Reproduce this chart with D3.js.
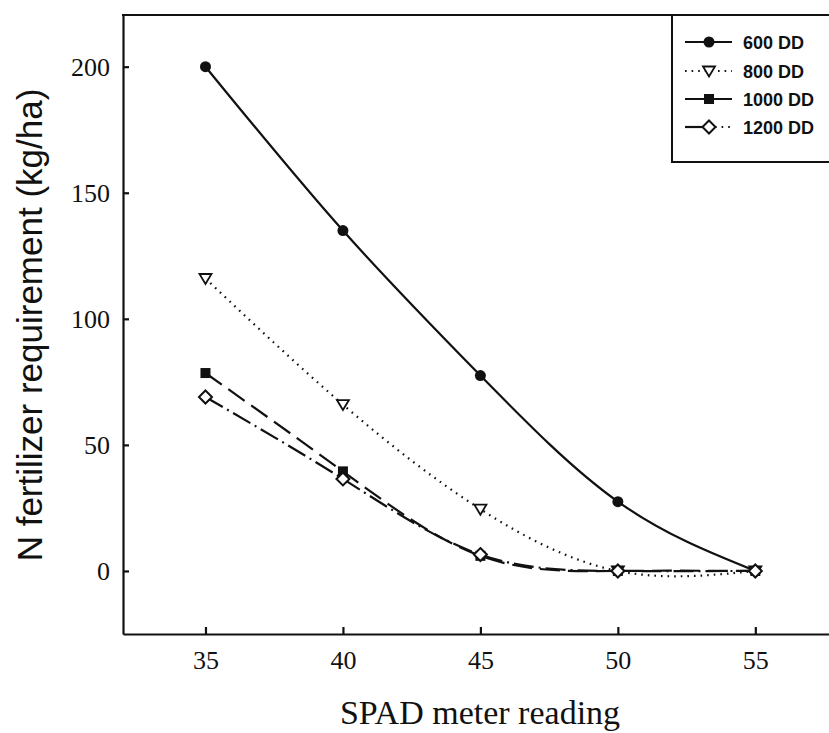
<!DOCTYPE html>
<html>
<head>
<meta charset="utf-8">
<script src="https://cdn.jsdelivr.net/npm/d3@7"></script>
<style>
  body { margin: 0; background: #fff; }
  .tick text { font-family: "Liberation Serif", "Times New Roman", serif; font-size: 26px; fill: #111; }
  .domain, .tick line { stroke: #111; stroke-width: 2.2; }
</style>
</head>
<body>
<div id="chart"></div>
<script>
// SPAD readings on the x axis
const spad = [35, 40, 45, 50, 55];

// N fertilizer requirement (kg/ha) per growth stage
const dd600 = [200, 135, 77.5, 27.5, 0];
const dd800 = [116, 66, 24.5, 0, 0];
const dd1000 = [78.5, 39.5, 6, 0, 0];
const dd1200 = [69, 36.5, 6.5, 0, 0];

const seriesNames = ["600 DD", "800 DD", "1000 DD", "1200 DD"];
const xTicks = [35, 40, 45, 50, 55];
const yTicks = [0, 50, 100, 150, 200];

const width = 829, height = 733;

const svg = d3.select("#chart").append("svg")
    .attr("width", width)
    .attr("height", height);

const x = d3.scaleLinear().domain([32, 57.68]).range([123, 829]);
const y = d3.scaleLinear().domain([-25, 220.5]).range([634, 15]);

// frame top line
svg.append("line")
    .attr("x1", 122).attr("x2", width)
    .attr("y1", y(220.5)).attr("y2", y(220.5))
    .attr("stroke", "#111").attr("stroke-width", 2.2);

// axes, ticks pointing inward
svg.append("g")
    .attr("transform", `translate(0,${y(-25)})`)
    .call(d3.axisBottom(x).tickValues(xTicks).tickSize(-7).tickSizeOuter(0).tickPadding(17));

svg.append("g")
    .attr("transform", `translate(${x(32)},0)`)
    .call(d3.axisLeft(y).tickValues(yTicks).tickSize(-6).tickSizeOuter(0).tickPadding(13));

// axis titles
svg.append("text")
    .attr("x", 480).attr("y", 724)
    .attr("text-anchor", "middle")
    .style("font-family", "'Liberation Serif', 'Times New Roman', serif")
    .style("font-size", "34px")
    .attr("fill", "#111")
    .text("SPAD meter reading");

svg.append("text")
    .attr("transform", "translate(42,325) rotate(-90)")
    .attr("text-anchor", "middle")
    .style("font-family", "'Liberation Sans', Arial, sans-serif")
    .style("font-size", "35px")
    .attr("fill", "#111")
    .text("N fertilizer requirement (kg/ha)");

// series styling
const styles = [
    { values: dd600, dash: null, marker: "circle" },
    { values: dd800, dash: "1.6,5", marker: "triangle" },
    { values: dd1000, dash: "20,8", marker: "square" },
    { values: dd1200, dash: "20,5,2,5", marker: "diamond" }
];

const line = d3.line()
    .x(d => x(d[0]))
    .y(d => y(d[1]))
    .curve(d3.curveNatural);

function drawMarker(g, type, cx, cy) {
    if (type === "circle") {
        g.append("circle").attr("cx", cx).attr("cy", cy).attr("r", 5.5).attr("fill", "#111");
    } else if (type === "square") {
        g.append("rect").attr("x", cx - 5).attr("y", cy - 5).attr("width", 10).attr("height", 10).attr("fill", "#111");
    } else if (type === "triangle") {
        g.append("path")
            .attr("d", `M${cx - 6},${cy - 4.5}L${cx + 6},${cy - 4.5}L${cx},${cy + 5.5}Z`)
            .attr("fill", "#fff").attr("stroke", "#111").attr("stroke-width", 1.8);
    } else {
        g.append("path")
            .attr("d", `M${cx},${cy - 6.5}L${cx + 6.5},${cy}L${cx},${cy + 6.5}L${cx - 6.5},${cy}Z`)
            .attr("fill", "#fff").attr("stroke", "#111").attr("stroke-width", 2);
    }
}

const plot = svg.append("g");

styles.forEach(s => {
    const pts = spad.map((v, i) => [v, s.values[i]]);
    plot.append("path")
        .datum(pts)
        .attr("d", line)
        .attr("fill", "none")
        .attr("stroke", "#111")
        .attr("stroke-width", 2.2)
        .attr("stroke-dasharray", s.dash);
});

styles.forEach(s => {
    spad.forEach((v, i) => drawMarker(plot, s.marker, x(v), y(s.values[i])));
});

// legend
const legend = svg.append("g");
legend.append("rect")
    .attr("x", 672).attr("y", 15)
    .attr("width", 170).attr("height", 147)
    .attr("fill", "#fff")
    .attr("stroke", "#111").attr("stroke-width", 2);

const rowY = [42, 71, 99, 127];
styles.forEach((s, i) => {
    const cy = rowY[i];
    if (s.marker === "diamond") {
        legend.append("line").attr("x1", 685).attr("x2", 703).attr("y1", cy).attr("y2", cy)
            .attr("stroke", "#111").attr("stroke-width", 2.2);
        legend.append("line").attr("x1", 715).attr("x2", 732).attr("y1", cy).attr("y2", cy)
            .attr("stroke", "#111").attr("stroke-width", 2.2).attr("stroke-dasharray", "1.6,5");
    } else {
        legend.append("line").attr("x1", 685).attr("x2", 732).attr("y1", cy).attr("y2", cy)
            .attr("stroke", "#111").attr("stroke-width", 2.2)
            .attr("stroke-dasharray", s.marker === "triangle" ? "1.6,5" : null);
    }
    drawMarker(legend, s.marker, 709, cy);
    legend.append("text")
        .attr("x", 743).attr("y", cy + 6.5)
        .style("font-family", "'Liberation Sans', Arial, sans-serif")
        .style("font-size", "18px")
        .style("font-weight", "bold")
        .attr("fill", "#111")
        .text(seriesNames[i]);
});
</script>
</body>
</html>
